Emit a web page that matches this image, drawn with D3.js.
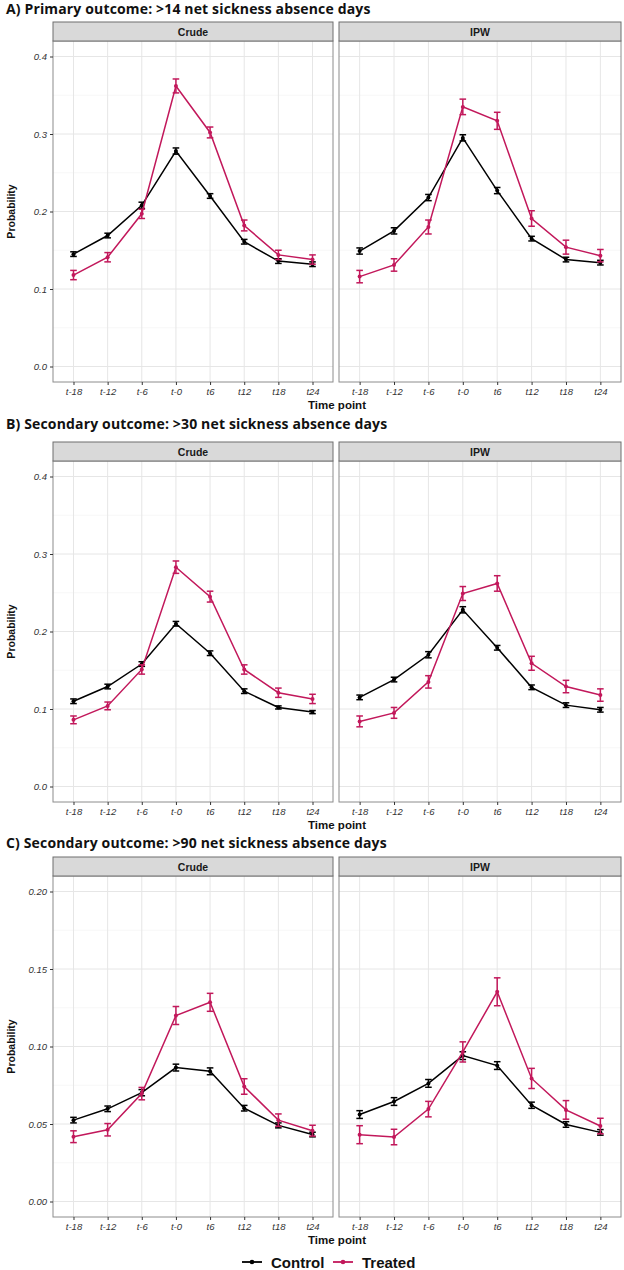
<!DOCTYPE html>
<html>
<head>
<meta charset="utf-8">
<script src="https://cdn.jsdelivr.net/npm/d3@7"></script>
<style>
  body { margin: 0; background: #fff; }
  svg { display: block; }
</style>
</head>
<body>
<div id="chart"></div>
<script>
var timePoints = ["t-18", "t-12", "t-6", "t-0", "t6", "t12", "t18", "t24"];
var methods = ["Crude", "IPW"];
var groups = ["Control", "Treated"];
var groupColors = ["#000000", "#C2185B"];

// A) >14 days
var aCrudeControl = [0.145, 0.169, 0.208, 0.278, 0.220, 0.161, 0.136, 0.132];
var aCrudeControlErr = [0.003, 0.003, 0.004, 0.004, 0.003, 0.003, 0.003, 0.003];
var aCrudeTreated = [0.118, 0.141, 0.197, 0.362, 0.302, 0.182, 0.144, 0.138];
var aCrudeTreatedErr = [0.006, 0.006, 0.006, 0.009, 0.007, 0.007, 0.006, 0.006];
var aIpwControl = [0.149, 0.175, 0.218, 0.295, 0.227, 0.165, 0.138, 0.134];
var aIpwControlErr = [0.004, 0.004, 0.004, 0.004, 0.004, 0.003, 0.003, 0.003];
var aIpwTreated = [0.116, 0.131, 0.180, 0.335, 0.317, 0.191, 0.154, 0.143];
var aIpwTreatedErr = [0.008, 0.008, 0.009, 0.010, 0.011, 0.010, 0.009, 0.008];

// B) >30 days
var bCrudeControl = [0.110, 0.129, 0.158, 0.210, 0.172, 0.123, 0.102, 0.096];
var bCrudeControlErr = [0.003, 0.003, 0.003, 0.003, 0.003, 0.003, 0.002, 0.002];
var bCrudeTreated = [0.086, 0.104, 0.151, 0.283, 0.245, 0.151, 0.121, 0.113];
var bCrudeTreatedErr = [0.005, 0.005, 0.006, 0.008, 0.007, 0.006, 0.006, 0.006];
var bIpwControl = [0.115, 0.138, 0.170, 0.228, 0.179, 0.128, 0.105, 0.099];
var bIpwControlErr = [0.003, 0.003, 0.004, 0.004, 0.003, 0.003, 0.003, 0.003];
var bIpwTreated = [0.084, 0.095, 0.135, 0.249, 0.262, 0.159, 0.129, 0.118];
var bIpwTreatedErr = [0.007, 0.007, 0.008, 0.009, 0.010, 0.009, 0.008, 0.008];

// C) >90 days
var cCrudeControl = [0.0525, 0.0598, 0.0702, 0.0864, 0.0840, 0.0602, 0.0491, 0.0432];
var cCrudeControlErr = [0.0018, 0.0018, 0.0020, 0.0022, 0.0022, 0.0018, 0.0016, 0.0015];
var cCrudeTreated = [0.0418, 0.0463, 0.0696, 0.1200, 0.1285, 0.0742, 0.0525, 0.0457];
var cCrudeTreatedErr = [0.0038, 0.0040, 0.0040, 0.0058, 0.0058, 0.0050, 0.0040, 0.0035];
var cIpwControl = [0.0561, 0.0645, 0.0762, 0.0941, 0.0877, 0.0621, 0.0497, 0.0446];
var cIpwControlErr = [0.0025, 0.0025, 0.0025, 0.0025, 0.0025, 0.0020, 0.0018, 0.0018];
var cIpwTreated = [0.0431, 0.0416, 0.0596, 0.0965, 0.1353, 0.0794, 0.0591, 0.0487];
var cIpwTreatedErr = [0.0058, 0.0050, 0.0050, 0.0065, 0.0090, 0.0065, 0.0060, 0.0050];

var rows = [
  { title: "A) Primary outcome: >14 net sickness absence days",
    yMax: 0.4, ticks: [0, 0.1, 0.2, 0.3, 0.4], fmt: ".1f",
    series: [[aCrudeControl, aCrudeControlErr, aCrudeTreated, aCrudeTreatedErr],
             [aIpwControl, aIpwControlErr, aIpwTreated, aIpwTreatedErr]],
    top: 22, titleY: 14 },
  { title: "B) Secondary outcome: >30 net sickness absence days",
    yMax: 0.4, ticks: [0, 0.1, 0.2, 0.3, 0.4], fmt: ".1f",
    series: [[bCrudeControl, bCrudeControlErr, bCrudeTreated, bCrudeTreatedErr],
             [bIpwControl, bIpwControlErr, bIpwTreated, bIpwTreatedErr]],
    top: 442, titleY: 429 },
  { title: "C) Secondary outcome: >90 net sickness absence days",
    yMax: 0.2, ticks: [0, 0.05, 0.1, 0.15, 0.2], fmt: ".2f",
    series: [[cCrudeControl, cCrudeControlErr, cCrudeTreated, cCrudeTreatedErr],
             [cIpwControl, cIpwControlErr, cIpwTreated, cIpwTreatedErr]],
    top: 857, titleY: 848 }
];

var width = 624, height = 1270;
var stripH = 19, panelH = 341;
var panelX = [[53, 333], [339, 621]];
var axisFont = "'Liberation Sans', Arial, sans-serif";

var svg = d3.select("#chart").append("svg")
    .attr("width", width)
    .attr("height", height);

rows.forEach(function(row) {
  var g = svg.append("g");

  g.append("text")
      .attr("x", 6)
      .attr("y", row.titleY)
      .text(row.title)
      .style("font-family", "'Open Sans', Lato, sans-serif")
      .style("font-weight", "bold")
      .style("font-size", "14px")
      .style("letter-spacing", "0.15px")
      .style("fill", "#111");

  var pTop = row.top + stripH;
  var pBottom = pTop + panelH;

  var pad = row.yMax * 0.05;
  var y = d3.scaleLinear()
      .domain([-pad, row.yMax + pad])
      .range([pBottom, pTop]);

  var minor = row.ticks.slice(0, -1).map(function(t, i) {
    return (t + row.ticks[i + 1]) / 2;
  });

  methods.forEach(function(method, m) {
    var x0 = panelX[m][0], x1 = panelX[m][1];
    var x = d3.scalePoint()
        .domain(timePoints)
        .range([x0, x1])
        .padding(0.6);

    var panel = g.append("g");

    // gridlines
    panel.selectAll(".minor").data(minor).enter().append("line")
        .attr("x1", x0).attr("x2", x1)
        .attr("y1", function(d) { return y(d); })
        .attr("y2", function(d) { return y(d); })
        .attr("stroke", "#f2f2f2").attr("stroke-width", 0.6);
    panel.selectAll(".major").data(row.ticks).enter().append("line")
        .attr("x1", x0).attr("x2", x1)
        .attr("y1", function(d) { return y(d); })
        .attr("y2", function(d) { return y(d); })
        .attr("stroke", "#e6e6e6").attr("stroke-width", 1);
    panel.selectAll(".vgrid").data(timePoints).enter().append("line")
        .attr("x1", function(d) { return x(d); })
        .attr("x2", function(d) { return x(d); })
        .attr("y1", pTop).attr("y2", pBottom)
        .attr("stroke", "#e6e6e6").attr("stroke-width", 1);

    // panel border
    panel.append("rect")
        .attr("x", x0).attr("y", pTop)
        .attr("width", x1 - x0).attr("height", panelH)
        .attr("fill", "none")
        .attr("stroke", "#8c8c8c").attr("stroke-width", 1);

    // strip
    panel.append("rect")
        .attr("x", x0).attr("y", row.top)
        .attr("width", x1 - x0).attr("height", stripH)
        .attr("fill", "#d9d9d9")
        .attr("stroke", "#6e6e6e").attr("stroke-width", 1);
    panel.append("text")
        .attr("x", (x0 + x1) / 2)
        .attr("y", row.top + stripH / 2 + 4)
        .attr("text-anchor", "middle")
        .text(method)
        .style("font-family", axisFont)
        .style("font-weight", "bold")
        .style("font-size", "10.5px")
        .style("fill", "#1a1a1a");

    // x axis
    var xAxis = panel.append("g")
        .attr("transform", "translate(0," + pBottom + ")")
        .call(d3.axisBottom(x).tickSize(3).tickPadding(3));
    xAxis.select(".domain").remove();
    xAxis.selectAll("line").attr("stroke", "#333");
    xAxis.selectAll("text")
        .style("font-family", axisFont)
        .style("font-style", "italic")
        .style("font-size", "9.5px")
        .style("fill", "#333");

    // y axis only on first panel
    if (m === 0) {
      var yAxis = panel.append("g")
          .attr("transform", "translate(" + x0 + ",0)")
          .call(d3.axisLeft(y).tickValues(row.ticks)
              .tickFormat(d3.format(row.fmt)).tickSize(3).tickPadding(3));
      yAxis.select(".domain").remove();
      yAxis.selectAll("line").attr("stroke", "#333");
      yAxis.selectAll("text")
          .style("font-family", axisFont)
          .style("font-style", "italic")
          .style("font-size", "9.5px")
          .style("fill", "#333");
    }

    var s = row.series[m];
    var seriesData = groups.map(function(grp, k) {
      return timePoints.map(function(t, i) {
        return { t: t, v: s[k * 2][i], e: s[k * 2 + 1][i] };
      });
    });

    var line = d3.line()
        .x(function(d) { return x(d.t); })
        .y(function(d) { return y(d.v); });

    seriesData.forEach(function(data, k) {
      var col = groupColors[k];
      var sg = panel.append("g");
      sg.append("path")
          .datum(data)
          .attr("d", line)
          .attr("fill", "none")
          .attr("stroke", col)
          .attr("stroke-width", 1.5);
      var eb = sg.selectAll(".eb").data(data).enter().append("g");
      eb.append("line")
          .attr("x1", function(d) { return x(d.t); })
          .attr("x2", function(d) { return x(d.t); })
          .attr("y1", function(d) { return y(d.v - d.e); })
          .attr("y2", function(d) { return y(d.v + d.e); })
          .attr("stroke", col).attr("stroke-width", 1.5);
      [-1, 1].forEach(function(sign) {
        eb.append("line")
            .attr("x1", function(d) { return x(d.t) - 3.3; })
            .attr("x2", function(d) { return x(d.t) + 3.3; })
            .attr("y1", function(d) { return y(d.v + sign * d.e); })
            .attr("y2", function(d) { return y(d.v + sign * d.e); })
            .attr("stroke", col).attr("stroke-width", 1.5);
      });
      sg.selectAll(".pt").data(data).enter().append("circle")
          .attr("cx", function(d) { return x(d.t); })
          .attr("cy", function(d) { return y(d.v); })
          .attr("r", 2)
          .attr("fill", col);
    });
  });

  // axis titles
  g.append("text")
      .attr("x", (panelX[0][0] + panelX[1][1]) / 2)
      .attr("y", pBottom + 27)
      .attr("text-anchor", "middle")
      .text("Time point")
      .style("font-family", axisFont)
      .style("font-weight", "bold")
      .style("font-size", "11.5px")
      .style("fill", "#111");

  g.append("text")
      .attr("transform", "translate(15," + ((pTop + pBottom) / 2) + ") rotate(-90)")
      .attr("text-anchor", "middle")
      .text("Probability")
      .style("font-family", axisFont)
      .style("font-weight", "bold")
      .style("font-size", "10.5px")
      .style("fill", "#111");
});

// legend
var legendPos = [242, 333];
var legend = svg.selectAll(".legend")
    .data(groups)
    .enter().append("g")
    .attr("class", "legend")
    .attr("transform", function(d, i) { return "translate(" + legendPos[i] + ",1262)"; });

legend.append("line")
    .attr("x1", 0).attr("x2", 20)
    .attr("y1", 0).attr("y2", 0)
    .attr("stroke", function(d, i) { return groupColors[i]; })
    .attr("stroke-width", 1.8);
legend.append("circle")
    .attr("cx", 10).attr("cy", 0).attr("r", 2.3)
    .attr("fill", function(d, i) { return groupColors[i]; });
legend.append("text")
    .attr("x", 29)
    .attr("y", 5.5)
    .text(function(d) { return d; })
    .style("font-family", axisFont)
    .style("font-weight", "bold")
    .style("font-size", "15px")
    .style("fill", "#111");
</script>
</body>
</html>
